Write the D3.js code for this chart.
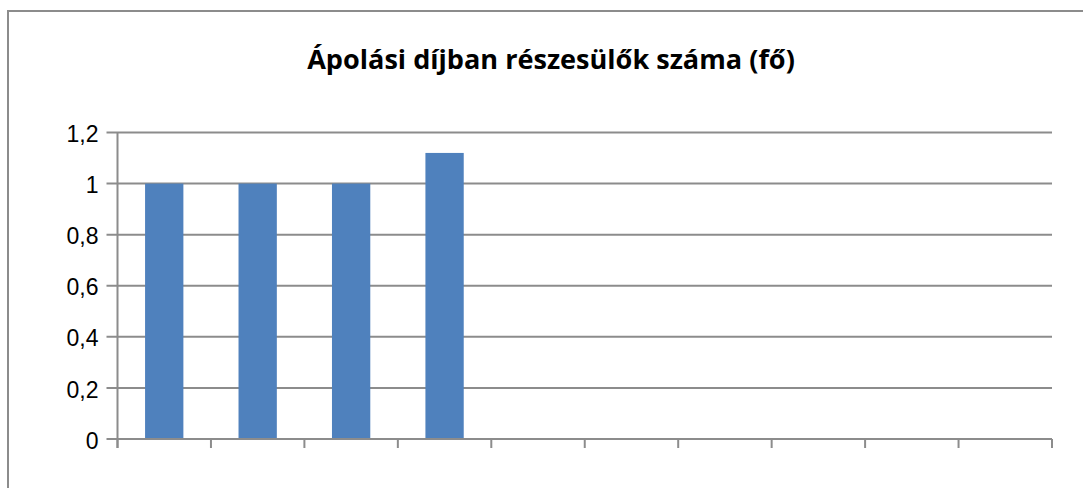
<!DOCTYPE html>
<html>
<head>
<meta charset="utf-8">
<script src="https://cdn.jsdelivr.net/npm/d3@7"></script>
<style>
  body { margin: 0; background: #fff; }
  svg { display: block; }
</style>
</head>
<body>
<div id="chart"></div>
<script>
// data
var categories = ["1", "2", "3", "4", "5", "6", "7", "8", "9", "10"];
var values = [1, 1, 1, 1.12, null, null, null, null, null, null];
var yTicks = [0, 0.2, 0.4, 0.6, 0.8, 1, 1.2];
var title = "Ápolási díjban részesülők száma (fő)";

var width = 1083, height = 488;
var margin = {top: 132.5, right: 31, bottom: 49, left: 117.5};

var svg = d3.select("#chart").append("svg")
    .attr("width", width)
    .attr("height", height);

// outer frame, runs past the window on the right and bottom
svg.append("rect")
    .attr("x", 8).attr("y", 11)
    .attr("width", 1200).attr("height", 600)
    .attr("fill", "none")
    .attr("stroke", "#8c8c8c")
    .attr("stroke-width", 2);

var x = d3.scaleBand()
    .domain(categories)
    .range([margin.left, width - margin.right])
    .paddingInner(0.59)
    .paddingOuter(0.295);

var xb = d3.scaleBand()
    .domain(categories)
    .range([margin.left, width - margin.right]);

var y = d3.scaleLinear()
    .domain([0, 1.2])
    .range([height - margin.bottom, margin.top]);

// gridlines
svg.append("g")
    .selectAll("line")
    .data(yTicks)
    .enter().append("line")
    .attr("x1", margin.left - 11)
    .attr("x2", width - margin.right)
    .attr("y1", function(d) { return y(d); })
    .attr("y2", function(d) { return y(d); })
    .attr("stroke", "#8c8c8c")
    .attr("stroke-width", 2);

// y labels
svg.append("g")
    .selectAll("text")
    .data(yTicks)
    .enter().append("text")
    .attr("x", margin.left - 19)
    .attr("y", function(d) { return y(d); })
    .attr("dy", "0.42em")
    .attr("text-anchor", "end")
    .style("font-family", "'Liberation Sans', Arial, sans-serif")
    .style("font-size", "23px")
    .attr("fill", "#000")
    .text(function(d) { return String(d).replace(".", ","); });

// bars
svg.append("g")
    .selectAll("rect")
    .data(categories.filter(function(c, i) { return values[i] != null; }))
    .enter().append("rect")
    .attr("x", function(d) { return x(d); })
    .attr("width", x.bandwidth())
    .attr("y", function(d) { return y(values[categories.indexOf(d)]); })
    .attr("height", function(d) { return y(0) - y(values[categories.indexOf(d)]); })
    .attr("fill", "#4f81bd");

// y axis line
svg.append("line")
    .attr("x1", margin.left).attr("x2", margin.left)
    .attr("y1", y(1.2)).attr("y2", y(0) + 9)
    .attr("stroke", "#8c8c8c")
    .attr("stroke-width", 2);

// x axis line + ticks at band edges
svg.append("line")
    .attr("x1", margin.left).attr("x2", width - margin.right)
    .attr("y1", y(0)).attr("y2", y(0))
    .attr("stroke", "#8c8c8c")
    .attr("stroke-width", 2);

var edges = categories.map(function(c) { return xb(c); }).concat([width - margin.right]);
svg.append("g")
    .selectAll("line")
    .data(edges)
    .enter().append("line")
    .attr("x1", function(d) { return d; })
    .attr("x2", function(d) { return d; })
    .attr("y1", y(0))
    .attr("y2", y(0) + 9)
    .attr("stroke", "#8c8c8c")
    .attr("stroke-width", 2);

// title
var t = svg.append("text")
    .attr("x", 551)
    .attr("y", 69)
    .attr("text-anchor", "middle")
    .style("font-family", "'Open Sans', sans-serif")
    .style("font-weight", "bold")
    .style("font-size", "21px")
    .attr("fill", "#000")
    .text(title);
var w = t.node().getComputedTextLength();
if (w > 0) t.style("font-size", (21 * 488 / w) + "px");
</script>
</body>
</html>
